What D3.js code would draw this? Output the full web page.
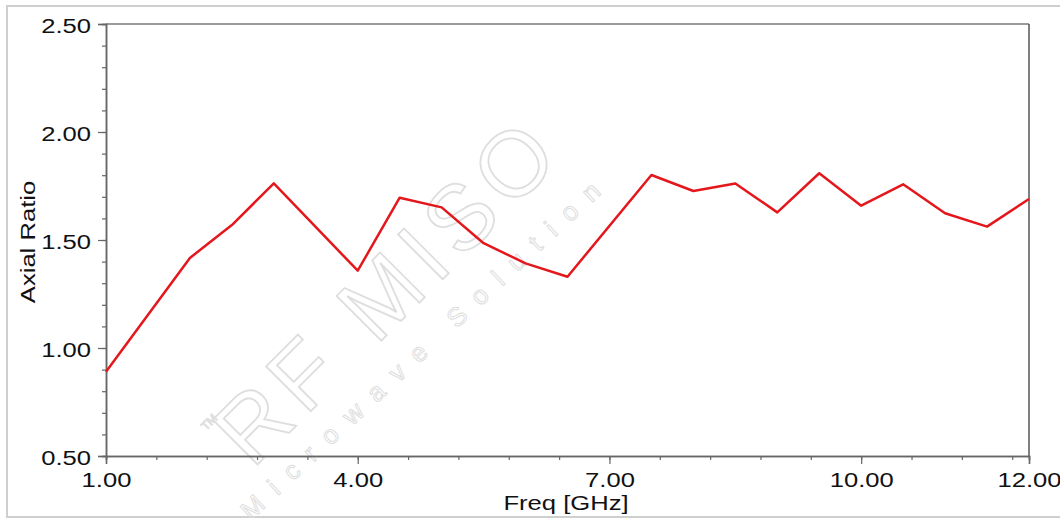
<!DOCTYPE html>
<html>
<head>
<meta charset="utf-8">
<script src="https://d3js.org/d3.v7.min.js"></script>
<style>
  body { margin: 0; background: #fff; }
  svg { display: block; font-family: "Liberation Sans", Arial, sans-serif; }
</style>
</head>
<body>
<svg width="1060" height="518"></svg>
<script>
// data
var freq = [1.0, 2.0, 2.5, 3.0, 4.0, 4.5, 5.0, 5.5, 6.0, 6.5, 7.5, 8.0, 8.5, 9.0, 9.5, 10.0, 10.5, 11.0, 11.5, 12.0];
var axialRatio = [0.89, 1.417, 1.569, 1.762, 1.358, 1.696, 1.651, 1.485, 1.392, 1.330, 1.801, 1.727, 1.762, 1.628, 1.809, 1.659, 1.758, 1.624, 1.562, 1.690];
var xMajor = [1, 4, 7, 10, 12];
var xMajorLabels = ["1.00", "4.00", "7.00", "10.00", "12.00"];
var yMajor = [0.5, 1.0, 1.5, 2.0, 2.5];
var yMajorLabels = ["0.50", "1.00", "1.50", "2.00", "2.50"];

var svg = d3.select("svg");
// plot box edges (window.top is reserved, so own names)
var plotL = 106, plotR = 1029, plotT = 24, plotB = 456;
var stretch = 1.22; // the original font is wider than Arial
var fontSize = "21px";

var x = d3.scaleLinear().domain([1, 12]).range([plotL, plotR]);
var y = d3.scaleLinear().domain([0.5, 2.5]).range([plotB, plotT]);

// outer frame
svg.append("rect")
	.attr("x", 7).attr("y", 6)
	.attr("width", 1070).attr("height", 511)
	.attr("fill", "none")
	.attr("stroke", "#cfcfcf")
	.attr("stroke-width", 2);

// watermark
var wm = svg.append("g").attr("fill", "none").attr("stroke", "#dedede").attr("stroke-width", 1.8);
wm.append("text")
	.attr("transform", "translate(410,312) rotate(-45)")
	.attr("text-anchor", "middle")
	.style("font-size", "92px")
	.style("letter-spacing", "9px")
	.text("RF MISO");
wm.append("text")
	.attr("transform", "translate(432,352) rotate(-43)")
	.attr("text-anchor", "middle")
	.attr("stroke-width", 1)
	.style("font-size", "26px")
	.style("letter-spacing", "15px")
	.text("Microwave Solution");
wm.append("text")
	.attr("transform", "translate(212,425) rotate(-45)")
	.attr("text-anchor", "middle")
	.attr("stroke-width", 1)
	.style("font-size", "12px")
	.text("TM");

// plot box top and right
svg.append("line")
	.attr("x1", plotL).attr("x2", plotR).attr("y1", plotT).attr("y2", plotT)
	.attr("stroke", "#7a7a7a").attr("stroke-width", 1.5);
svg.append("line")
	.attr("x1", plotR).attr("x2", plotR).attr("y1", plotT).attr("y2", plotB)
	.attr("stroke", "#555").attr("stroke-width", 1.5);

// minor ticks
var xMinor = d3.range(1, 12, 0.6).concat([12]);
var yMinor = d3.range(0.5, 2.51, 0.1);

svg.append("g")
	.attr("transform", "translate(0," + plotB + ")")
	.call(d3.axisBottom(x).tickValues(xMinor).tickSize(4).tickFormat(""))
	.call(styleAxis);
svg.append("g")
	.attr("transform", "translate(" + plotL + ",0)")
	.call(d3.axisLeft(y).tickValues(yMinor).tickSize(4).tickFormat(""))
	.call(styleAxis);

// major ticks with labels
var xAxis = svg.append("g")
	.attr("transform", "translate(0," + plotB + ")")
	.call(d3.axisBottom(x).tickValues(xMajor).tickSize(8).tickPadding(8)
		.tickFormat(function(d, i) { return xMajorLabels[i]; }))
	.call(styleAxis);
xAxis.selectAll("text")
	.attr("dy", "0.71em")
	.attr("transform", "scale(" + stretch + ",1)");

var yAxis = svg.append("g")
	.attr("transform", "translate(" + plotL + ",0)")
	.call(d3.axisLeft(y).tickValues(yMajor).tickSize(8).tickPadding(7)
		.tickFormat(function(d, i) { return yMajorLabels[i]; }))
	.call(styleAxis);
yAxis.selectAll("text")
	.attr("x", -15 / stretch)
	.attr("dy", "0.40em")
	.attr("transform", "scale(" + stretch + ",1)");

function styleAxis(g) {
	g.select(".domain").attr("stroke", "#666").attr("stroke-width", 1.5);
	g.selectAll(".tick line").attr("stroke", "#666").attr("stroke-width", 1.2);
	g.selectAll("text")
		.attr("fill", "#111")
		.style("font-size", fontSize)
		.style("font-family", "\"Liberation Sans\", Arial, sans-serif");
}

// axis titles
svg.append("text")
	.attr("transform", "translate(566,510) scale(" + stretch + ",1)")
	.attr("text-anchor", "middle")
	.attr("fill", "#111")
	.style("font-size", fontSize)
	.text("Freq [GHz]");
svg.append("text")
	.attr("transform", "translate(35,242) rotate(-90) scale(" + stretch + ",1)")
	.attr("text-anchor", "middle")
	.attr("fill", "#111")
	.style("font-size", fontSize)
	.text("Axial Ratio");

// the curve
var line = d3.line()
	.x(function(d, i) { return x(freq[i]); })
	.y(function(d) { return y(d); });

svg.append("path")
	.datum(axialRatio)
	.attr("d", line)
	.attr("fill", "none")
	.attr("stroke", "#e3171c")
	.attr("stroke-width", 2.5)
	.attr("stroke-linejoin", "round");
</script>
</body>
</html>
